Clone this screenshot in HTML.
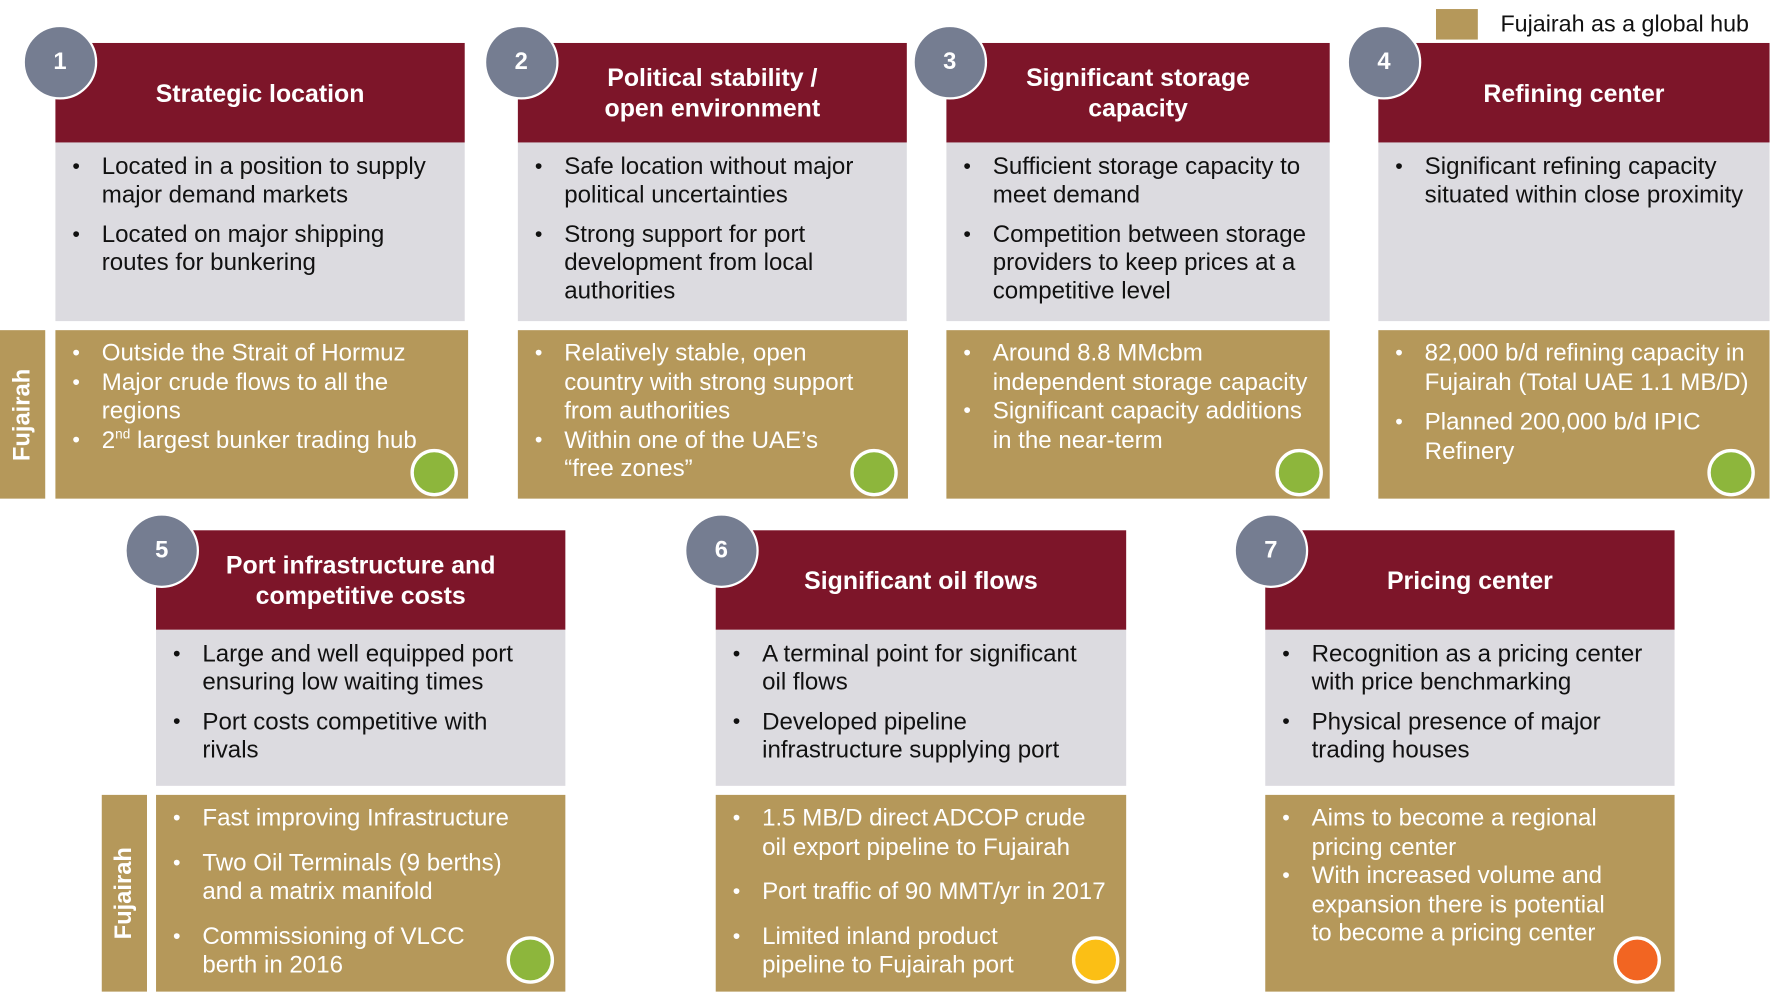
<!DOCTYPE html>
<html><head><meta charset="utf-8"><style>
html,body{margin:0;padding:0;background:#fff;width:1773px;height:994px;overflow:hidden}
#s{position:absolute;left:0;top:0;width:1568px;height:879px;transform:scale(1.1307);transform-origin:0 0;font-family:"Liberation Sans",Arial,sans-serif}
.a{position:absolute;box-sizing:border-box}
.h{background:#7d1529;color:#fff;font-weight:bold;font-size:22px;line-height:27px;display:flex;align-items:center;justify-content:center;text-align:center}
.g{background:#dcdbe0;color:#111;font-size:21.3px;line-height:25px;padding-top:9px}
.o{background:#b5985a;color:#fff;font-size:21.3px;line-height:25.5px;padding-top:8px}
ul{margin:0;padding:0;list-style:none}
li{position:relative;padding-left:41px;white-space:nowrap}
li:before{content:"\2022";position:absolute;left:15px;top:0;font-size:19px}
.g li+li{margin-top:10px}
.c{border-radius:50%;background:#757d91;border:2px solid #fff;color:#fff;font-weight:bold;font-size:21px;display:flex;align-items:center;justify-content:center;width:66px;height:66px}
.d{border-radius:50%;border:3px solid #fff;width:42px;height:42px}
.f{background:#b5985a;color:#fff;font-weight:bold;font-size:21px}
.f span{position:absolute;left:50%;top:50%;transform:translate(-50%,-50%) rotate(-90deg);white-space:nowrap}
</style></head><body><div id="s">
<div class="a" style="left:1270px;top:8px;width:37px;height:27px;background:#b5985a"></div>
<div class="a" style="left:1327px;top:10px;font-size:20.6px;color:#111">Fujairah as a global hub</div>

<!-- Box1 -->
<div class="a h" style="left:49px;top:38px;width:362px;height:88px">Strategic location</div>
<div class="a g" style="left:49px;top:126px;width:362px;height:158px"><ul><li>Located in a position to supply<br>major demand markets</li><li>Located on major shipping<br>routes for bunkering</li></ul></div>
<div class="a o" style="left:49px;top:292px;width:365px;height:149px"><ul><li>Outside the Strait of Hormuz</li><li>Major crude flows to all the<br>regions</li><li>2<sup style="font-size:12px;line-height:0">nd</sup> largest bunker trading hub</li></ul></div>
<div class="a f" style="left:0;top:292px;width:40px;height:149px"><span>Fujairah</span></div>
<div class="a c" style="left:20px;top:22px">1</div>
<div class="a d" style="left:363px;top:397px;background:#8db63c"></div>

<!-- Box2 -->
<div class="a h" style="left:458px;top:38px;width:344px;height:88px">Political stability /<br>open environment</div>
<div class="a g" style="left:458px;top:126px;width:344px;height:158px"><ul><li>Safe location without major<br>political uncertainties</li><li>Strong support for port<br>development from local<br>authorities</li></ul></div>
<div class="a o" style="left:458px;top:292px;width:345px;height:149px"><ul><li>Relatively stable, open<br>country with strong support<br>from authorities</li><li>Within one of the UAE’s<br>“free zones”</li></ul></div>
<div class="a c" style="left:428px;top:22px">2</div>
<div class="a d" style="left:752px;top:397px;background:#8db63c"></div>

<!-- Box3 -->
<div class="a h" style="left:837px;top:38px;width:339px;height:88px">Significant storage<br>capacity</div>
<div class="a g" style="left:837px;top:126px;width:339px;height:158px"><ul><li>Sufficient storage capacity to<br>meet demand</li><li>Competition between storage<br>providers to keep prices at a<br>competitive level</li></ul></div>
<div class="a o" style="left:837px;top:292px;width:339px;height:149px"><ul><li>Around 8.8 MMcbm<br>independent storage capacity</li><li>Significant capacity additions<br>in the near-term</li></ul></div>
<div class="a c" style="left:807px;top:22px">3</div>
<div class="a d" style="left:1128px;top:397px;background:#8db63c"></div>

<!-- Box4 -->
<div class="a h" style="left:1219px;top:38px;width:346px;height:88px">Refining center</div>
<div class="a g" style="left:1219px;top:126px;width:346px;height:158px"><ul><li>Significant refining capacity<br>situated within close proximity</li></ul></div>
<div class="a o" style="left:1219px;top:292px;width:346px;height:149px"><ul><li>82,000 b/d refining capacity in<br>Fujairah (Total UAE 1.1 MB/D)</li><li style="margin-top:10px">Planned 200,000 b/d IPIC<br>Refinery</li></ul></div>
<div class="a c" style="left:1191px;top:22px">4</div>
<div class="a d" style="left:1510px;top:397px;background:#8db63c"></div>

<!-- Box5 -->
<div class="a h" style="left:138px;top:469px;width:362px;height:88px">Port infrastructure and<br>competitive costs</div>
<div class="a g" style="left:138px;top:557px;width:362px;height:138px"><ul><li>Large and well equipped port<br>ensuring low waiting times</li><li>Port costs competitive with<br>rivals</li></ul></div>
<div class="a o" style="left:138px;top:703px;width:362px;height:174px"><ul><li>Fast improving Infrastructure</li><li style="margin-top:14px">Two Oil Terminals (9 berths)<br>and a matrix manifold</li><li style="margin-top:14px">Commissioning of VLCC<br>berth in 2016</li></ul></div>
<div class="a f" style="left:90px;top:703px;width:40px;height:174px"><span>Fujairah</span></div>
<div class="a c" style="left:110px;top:454px">5</div>
<div class="a d" style="left:448px;top:828px;background:#8db63c"></div>

<!-- Box6 -->
<div class="a h" style="left:633px;top:469px;width:363px;height:88px">Significant oil flows</div>
<div class="a g" style="left:633px;top:557px;width:363px;height:138px"><ul><li>A terminal point for significant<br>oil flows</li><li>Developed pipeline<br>infrastructure supplying port</li></ul></div>
<div class="a o" style="left:633px;top:703px;width:363px;height:174px"><ul><li>1.5 MB/D direct ADCOP crude<br>oil export pipeline to Fujairah</li><li style="margin-top:14px">Port traffic of 90 MMT/yr in 2017</li><li style="margin-top:14px">Limited inland product<br>pipeline to Fujairah port</li></ul></div>
<div class="a c" style="left:605px;top:454px">6</div>
<div class="a d" style="left:948px;top:828px;background:#fbbf15"></div>

<!-- Box7 -->
<div class="a h" style="left:1119px;top:469px;width:362px;height:88px">Pricing center</div>
<div class="a g" style="left:1119px;top:557px;width:362px;height:138px"><ul><li>Recognition as a pricing center<br>with price benchmarking</li><li>Physical presence of major<br>trading houses</li></ul></div>
<div class="a o" style="left:1119px;top:703px;width:362px;height:174px"><ul><li>Aims to become a regional<br>pricing center</li><li>With increased volume and<br>expansion there is potential<br>to become a pricing center</li></ul></div>
<div class="a c" style="left:1091px;top:454px">7</div>
<div class="a d" style="left:1427px;top:828px;background:#f26522"></div>
</div></body></html>
